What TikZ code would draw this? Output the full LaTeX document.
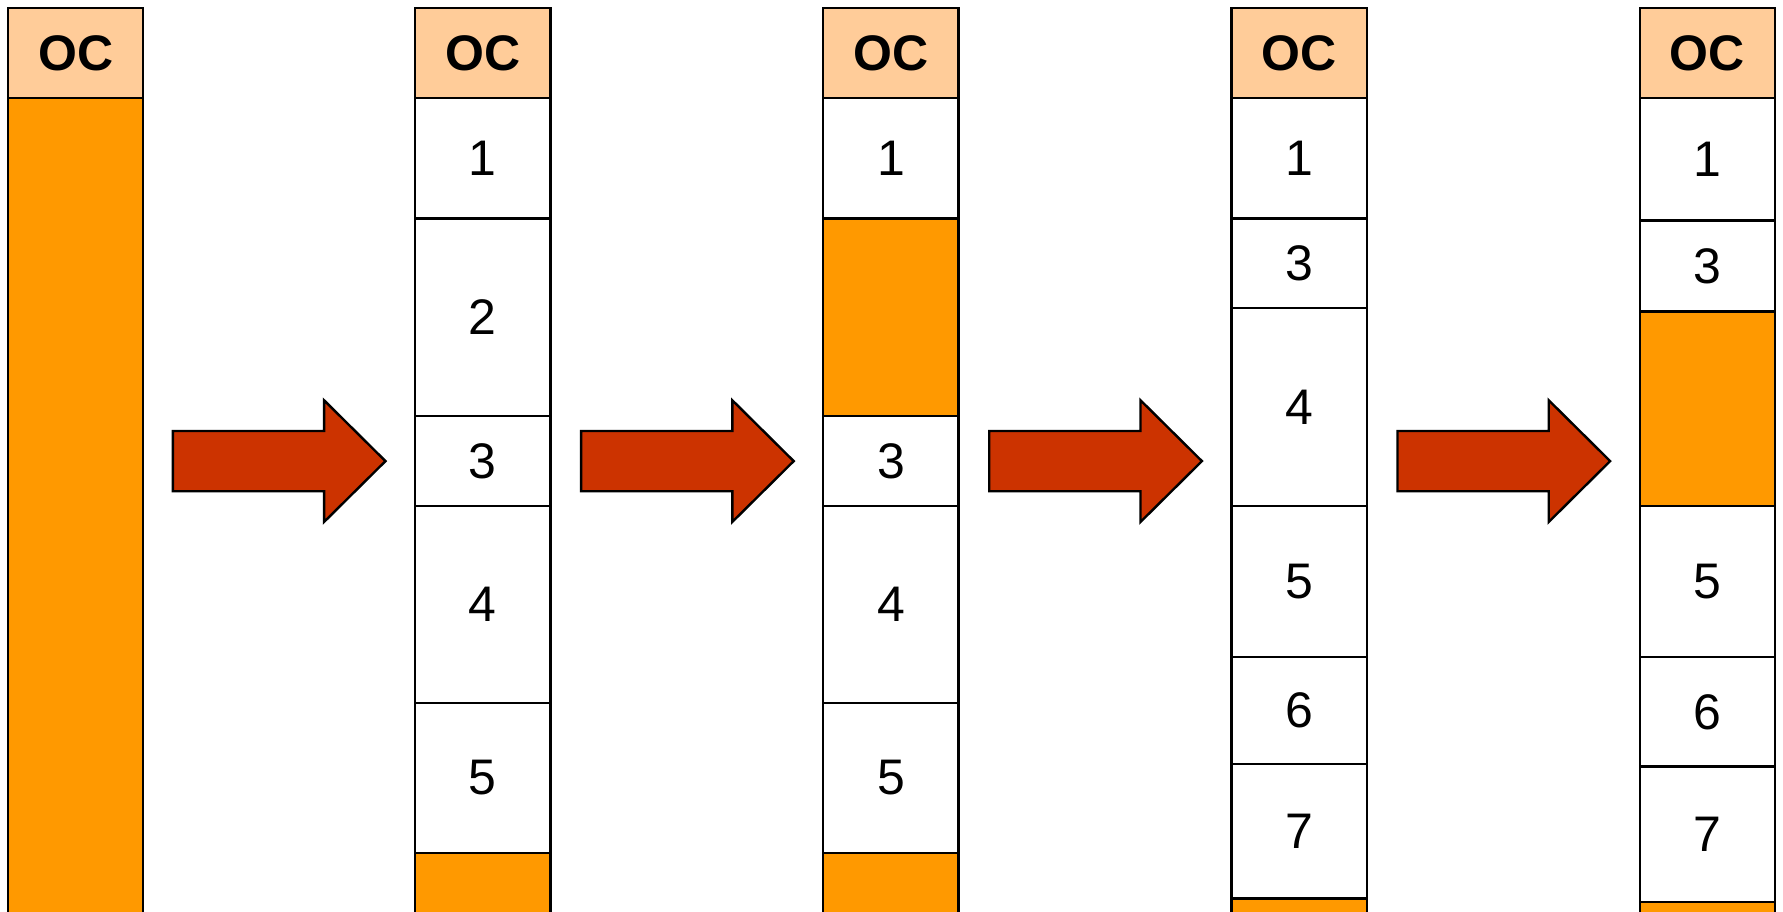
\documentclass[tikz,border=0pt]{standalone}
\usepackage{fontspec}
\setmainfont{Liberation Sans}
\usetikzlibrary{fit}
\definecolor{peach}{HTML}{FFCC99}
\definecolor{orng}{HTML}{FF9900}
\definecolor{arrowred}{HTML}{CC3300}
\tikzset{
  cellbox/.style={draw=black, line width=0.6pt, inner sep=0pt},
  occell/.style={cellbox, fill=peach},
  freecell/.style={cellbox, fill=orng},
  usedcell/.style={cellbox, fill=white},
  celltext/.style={inner sep=0pt, font=\fontsize{12.5}{14}\selectfont},
  octext/.style={celltext, font=\fontsize{12.5}{14}\selectfont\bfseries},
  bigarrow/.style={draw=black, line width=0.6pt, fill=arrowred, line join=miter}
}
% \mycell{name}{style}{x1}{y1}{y2}{text}{textstyle}
\newcommand{\mycell}[7]{%
  \coordinate (#1-a) at (#3,#4);
  \coordinate (#1-b) at ({#3+119},#5);
  \node[#2, fit=(#1-a)(#1-b)] (#1) {};
  \node[#7] (#1-t) at (#1.center) {#6};
}
% \myarrow{x}
\newcommand{\myarrow}[1]{%
  \draw[bigarrow] (#1,379) -- ({#1+133},379) -- ({#1+133},352) -- ({#1+187},405.5)
    -- ({#1+133},459) -- ({#1+133},432) -- (#1,432) -- cycle;
}
\begin{document}
\begin{tikzpicture}[x=0.01cm, y=-0.01cm]
\useasboundingbox (0,0) rectangle (1568,802);
\clip (0,0) rectangle (1568,802);
% column 1
\mycell{aoc}{occell}{7}{7}{86}{OC}{octext}
\mycell{af}{freecell}{7}{86}{820}{}{celltext}
% column 2
\mycell{boc}{occell}{365}{7}{86}{OC}{octext}
\mycell{b1}{usedcell}{365}{86}{192}{1}{celltext}
\mycell{b2}{usedcell}{365}{192}{366}{2}{celltext}
\mycell{b3}{usedcell}{365}{366}{445}{3}{celltext}
\mycell{b4}{usedcell}{365}{445}{618}{4}{celltext}
\mycell{b5}{usedcell}{365}{618}{750}{5}{celltext}
\mycell{bf}{freecell}{365}{750}{820}{}{celltext}
% column 3
\mycell{coc}{occell}{724}{7}{86}{OC}{octext}
\mycell{c1}{usedcell}{724}{86}{192}{1}{celltext}
\mycell{cf1}{freecell}{724}{192}{366}{}{celltext}
\mycell{c3}{usedcell}{724}{366}{445}{3}{celltext}
\mycell{c4}{usedcell}{724}{445}{618}{4}{celltext}
\mycell{c5}{usedcell}{724}{618}{750}{5}{celltext}
\mycell{cf2}{freecell}{724}{750}{820}{}{celltext}
% column 4
\mycell{doc}{occell}{1083}{7}{86}{OC}{octext}
\mycell{d1}{usedcell}{1083}{86}{192}{1}{celltext}
\mycell{d3}{usedcell}{1083}{192}{271}{3}{celltext}
\mycell{d4}{usedcell}{1083}{271}{445}{4}{celltext}
\mycell{d5}{usedcell}{1083}{445}{578}{5}{celltext}
\mycell{d6}{usedcell}{1083}{578}{672}{6}{celltext}
\mycell{d7}{usedcell}{1083}{672}{790}{7}{celltext}
\mycell{df}{freecell}{1083}{790}{820}{}{celltext}
% column 5
\mycell{eoc}{occell}{1442}{7}{86}{OC}{octext}
\mycell{e1}{usedcell}{1442}{86}{194}{1}{celltext}
\mycell{e3}{usedcell}{1442}{194}{274}{3}{celltext}
\mycell{ef1}{freecell}{1442}{274}{445}{}{celltext}
\mycell{e5}{usedcell}{1442}{445}{578}{5}{celltext}
\mycell{e6}{usedcell}{1442}{578}{674}{6}{celltext}
\mycell{e7}{usedcell}{1442}{674}{793}{7}{celltext}
\mycell{ef2}{freecell}{1442}{793}{820}{}{celltext}
% arrows
\myarrow{152}
\myarrow{511}
\myarrow{870}
\myarrow{1229}
\end{tikzpicture}
\end{document}
